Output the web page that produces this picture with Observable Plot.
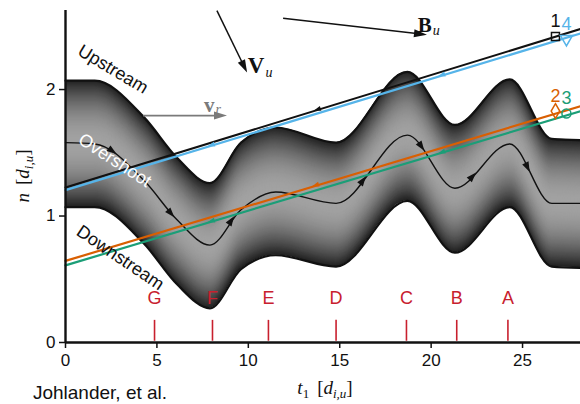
<!DOCTYPE html>
<html><head><meta charset="utf-8">
<script src="https://cdn.jsdelivr.net/npm/d3@7"></script>
<script src="https://cdn.jsdelivr.net/npm/@observablehq/plot@0.6"></script>
<style>
html,body{margin:0;padding:0;background:#fff;overflow:hidden}
</style></head><body><div id="chart"></div>
<script>
// ---- data ----
const tKnots      = [0, 1.6, 4.3, 6.1, 7.9, 9.6, 11.5, 14.8, 18.7, 21.3, 24.3, 26.6, 28.2];
const upstreamN   = [2.07, 2.07, 1.78, 1.46, 1.26, 1.58, 1.70, 1.58, 2.14, 1.72, 2.08, 1.61, 1.60];
const downstreamN = [1.07, 1.07, 0.78, 0.46, 0.27, 0.58, 0.69, 0.60, 1.12, 0.71, 1.07, 0.60, 0.59];
const overshootN  = [1.58, 1.57, 1.28, 0.97, 0.77, 1.05, 1.19, 1.10, 1.64, 1.22, 1.57, 1.10, 1.10];
const overshootArrowT = [2.6, 5.8, 9.1, 16.3, 19.5, 22.3, 25.3];

const lineT  = [0, 28.2];
const line1N = [1.225, 2.48];   // black
const line4N = [1.205, 2.445];  // blue
const line2N = [0.645, 1.87];   // orange
const line3N = [0.61, 1.83];    // green
const line1ArrowT = [13.8];
const line4ArrowT = [8.0, 20.6];
const line2ArrowT = [13.7];
const line3ArrowT = [8.0, 20.6];

const endIds = ["1", "4", "2", "3"];
const endT   = [26.8, 27.4, 26.8, 27.4];
const endN   = [2.42, 2.40, 1.83, 1.81];

const regionLabels = ["G", "F", "E", "D", "C", "B", "A"];
const regionT      = [4.87, 8.04, 11.1, 14.8, 18.65, 21.4, 24.2];

const xTicks = [0, 5, 10, 15, 20, 25];
const yTicks = [0, 1, 2];

// ---- build ----
const cBlack = "#111", cBlue = "#56B4E9", cOrange = "#D95F02", cGreen = "#1B9E77", cRed = "#C8202E";
const rows = tKnots.map((t, i) => ({t, up: upstreamN[i], dn: downstreamN[i], mid: overshootN[i]}));
const mkLine = (arr) => lineT.map((t, i) => ({t, n: arr[i]}));

const NL = 60;
const layers = [];
for (let i = 0; i < NL; i++) {
  const f = 1 - i / NL;
  const g = Math.round(34 + (162 - 34) * (1 - f * f));
  layers.push(Plot.areaY(rows, {
    x: "t",
    y1: d => (d.up + d.dn) / 2 - f * (d.up - d.dn) / 2,
    y2: d => (d.up + d.dn) / 2 + f * (d.up - d.dn) / 2,
    curve: "monotone-x", fill: `rgb(${g},${g},${g})`
  }));
}

const ends = endIds.map((id, i) => ({id, t: endT[i], n: endN[i]}));
const endColor = {"1": cBlack, "4": cBlue, "2": cOrange, "3": cGreen};
const endSymbol = {"1": "square", "4": "triangle", "2": "diamond", "3": "circle"};

const chart = Plot.plot({
  width: 580, height: 404,
  marginLeft: 65, marginRight: 0, marginTop: 10, marginBottom: 62,
  x: {domain: [0, 28.17]},
  y: {domain: [0, 2.625]},
  style: {fontFamily: "'Liberation Sans', Arial, sans-serif", fontSize: "17px", overflow: "visible", background: "transparent", color: "#111"},
  marks: [
    ...layers,
    Plot.line(rows, {x: "t", y: "up", curve: "monotone-x", stroke: "#111", strokeWidth: 2.2}),
    Plot.line(rows, {x: "t", y: "dn", curve: "monotone-x", stroke: "#111", strokeWidth: 2.2}),
    Plot.line(rows, {x: "t", y: "mid", curve: "monotone-x", stroke: "#111", strokeWidth: 1.4, ariaDescription: "overshoot"}),
    Plot.line(mkLine(line1N), {x: "t", y: "n", stroke: cBlack, strokeWidth: 2, ariaDescription: "l1"}),
    Plot.line(mkLine(line4N), {x: "t", y: "n", stroke: cBlue, strokeWidth: 2.2, ariaDescription: "l4"}),
    Plot.line(mkLine(line2N), {x: "t", y: "n", stroke: cOrange, strokeWidth: 2.2, ariaDescription: "l2"}),
    Plot.line(mkLine(line3N), {x: "t", y: "n", stroke: cGreen, strokeWidth: 2.2, ariaDescription: "l3"}),
    Plot.dot(ends, {x: "t", y: "n", symbol: d => endSymbol[d.id], stroke: d => endColor[d.id], r: 4.5, strokeWidth: 1.5, fill: "none", rotate: d => d.id === "4" ? 180 : 0}),
    Plot.text(ends, {x: "t", y: "n", text: "id", fill: d => endColor[d.id], dy: -15, fontSize: 18}),
    Plot.ruleX(regionT, {x: d => d, y1: 0.01, y2: 0.175, stroke: cRed, strokeWidth: 1.6}),
    Plot.text(regionLabels, {x: (d, i) => regionT[i], y: 0.35, text: d => d, fill: cRed, fontSize: 18}),
    Plot.text(["Upstream"], {x: 2.6, y: 2.16, text: d => d, rotate: 31, fontSize: 18, fill: "#111"}),
    Plot.text(["Overshoot"], {x: 2.7, y: 1.44, text: d => d, rotate: 33, fontSize: 18, fill: "#fff"}),
    Plot.text(["Downstream"], {x: 3.0, y: 0.67, text: d => d, rotate: 34, fontSize: 18, fill: "#111"}),
    Plot.axisX({ticks: xTicks, tickSize: 6, tickPadding: 5, label: null, fontSize: 17, strokeWidth: 1.5, tickFormat: d3.format("d")}),
    Plot.axisY({ticks: yTicks, tickSize: 6, tickPadding: 4, label: null, fontSize: 17, strokeWidth: 1.5, tickFormat: d3.format("d")}),
    Plot.ruleX([0], {stroke: "#111", strokeWidth: 2.4}),
    Plot.ruleY([0], {stroke: "#111", strokeWidth: 2.4})
  ]
});
document.getElementById("chart").appendChild(chart);

// ---- decorations drawn through the scales ----
const X = chart.scale("x").apply, Y = chart.scale("y").apply;
const svg = d3.select(chart);
const over = svg.append("g");

function head(tipx, tipy, dx, dy, len, wid, color) {
  const bx = tipx - dx * len, by = tipy - dy * len, nx = -dy, ny = dx;
  over.append("polygon")
    .attr("points", `${tipx},${tipy} ${bx + nx * wid / 2},${by + ny * wid / 2} ${bx - nx * wid / 2},${by - ny * wid / 2}`)
    .attr("fill", color);
}
function headsOn(desc, tList, len, wid, color, reverse) {
  const path = svg.select(`g[aria-description="${desc}"] path`).node();
  if (!path) return;
  const L = path.getTotalLength();
  for (const t of tList) {
    const px = X(t);
    let lo = 0, hi = L;
    for (let k = 0; k < 40; k++) { const m = (lo + hi) / 2; if (path.getPointAtLength(m).x < px) lo = m; else hi = m; }
    const s = (lo + hi) / 2;
    const a = path.getPointAtLength(Math.max(0, s - 2)), b = path.getPointAtLength(Math.min(L, s + 2)), p = path.getPointAtLength(s);
    let dx = b.x - a.x, dy = b.y - a.y; const nn = Math.hypot(dx, dy); dx /= nn; dy /= nn;
    if (reverse) { dx = -dx; dy = -dy; }
    head(p.x + dx * len / 2, p.y + dy * len / 2, dx, dy, len, wid, color);
  }
}
headsOn("overshoot", overshootArrowT, 10, 7, "#111", false);
headsOn("l1", line1ArrowT, 7, 5, cBlack, true);
headsOn("l4", line4ArrowT, 7, 5, cBlue, true);
headsOn("l2", line2ArrowT, 7, 5, cOrange, true);
headsOn("l3", line3ArrowT, 7, 5, cGreen, true);

// annotation arrows
function arrow(t1, n1, t2, n2, color, w, len, wid) {
  const x1 = X(t1), y1 = Y(n1), x2 = X(t2), y2 = Y(n2);
  let dx = x2 - x1, dy = y2 - y1; const nn = Math.hypot(dx, dy); dx /= nn; dy /= nn;
  over.append("line").attr("x1", x1).attr("y1", y1).attr("x2", x2 - dx * len * 0.8).attr("y2", y2 - dy * len * 0.8)
    .attr("stroke", color).attr("stroke-width", w);
  head(x2, y2, dx, dy, len, wid, color);
}
arrow(8.31, 2.62, 9.96, 2.13, "#111", 1.5, 13, 8);
arrow(4.27, 1.79, 8.86, 1.79, "#7a7a7a", 1.8, 13, 8);
arrow(11.93, 2.56, 19.8, 2.43, "#111", 1.5, 13, 8);

const serif = "'Liberation Serif', 'Times New Roman', serif";
function mtext(x, y, parts, color, anchor, rot) {
  const tx = over.append("text").attr("x", x).attr("y", y).attr("fill", color || "#111")
    .attr("font-family", serif).attr("text-anchor", anchor || "start");
  if (rot) tx.attr("transform", `rotate(${rot},${x},${y})`);
  for (const p of parts) {
    tx.append("tspan").text(p[0]).attr("font-size", p[1]).attr("font-style", p[2] || "normal")
      .attr("font-weight", p[3] || "normal").attr("dy", p[4] || 0).attr("dx", p[5] || 0);
  }
  return tx;
}
mtext(X(10.0), Y(2.125), [["V", 23, "normal", "bold"], ["u", 14, "italic", "normal", 4, 1]], "#111");
mtext(X(7.6), Y(1.815), [["v", 21, "normal", "bold"], ["r", 14, "italic", "normal", 2, 1]], "#7a7a7a");
mtext(X(19.3), Y(2.45), [["B", 21, "normal", "bold"], ["u", 14, "italic", "normal", 3, 1]], "#111");
mtext(325, 394, [["t", 19, "italic"], ["1", 13, "normal", "normal", 4], ["[", 19, "normal", "normal", -4, 8], ["d", 19, "italic"], ["i,u", 13, "italic", "normal", 4], ["]", 19, "normal", "normal", -4]], "#111", "middle");
mtext(29, 176, [["n", 19, "italic"], ["[", 19, "normal", "normal", 0, 8], ["d", 19, "italic"], ["i,u", 13, "italic", "normal", 4], ["]", 19, "normal", "normal", -4]], "#111", "middle", -90);

over.append("text").attr("x", 100).attr("y", 399).attr("font-size", 19)
  .attr("font-family", "'Liberation Sans', Arial, sans-serif").attr("fill", "#111").text("Johlander, et al.");
</script></body></html>
